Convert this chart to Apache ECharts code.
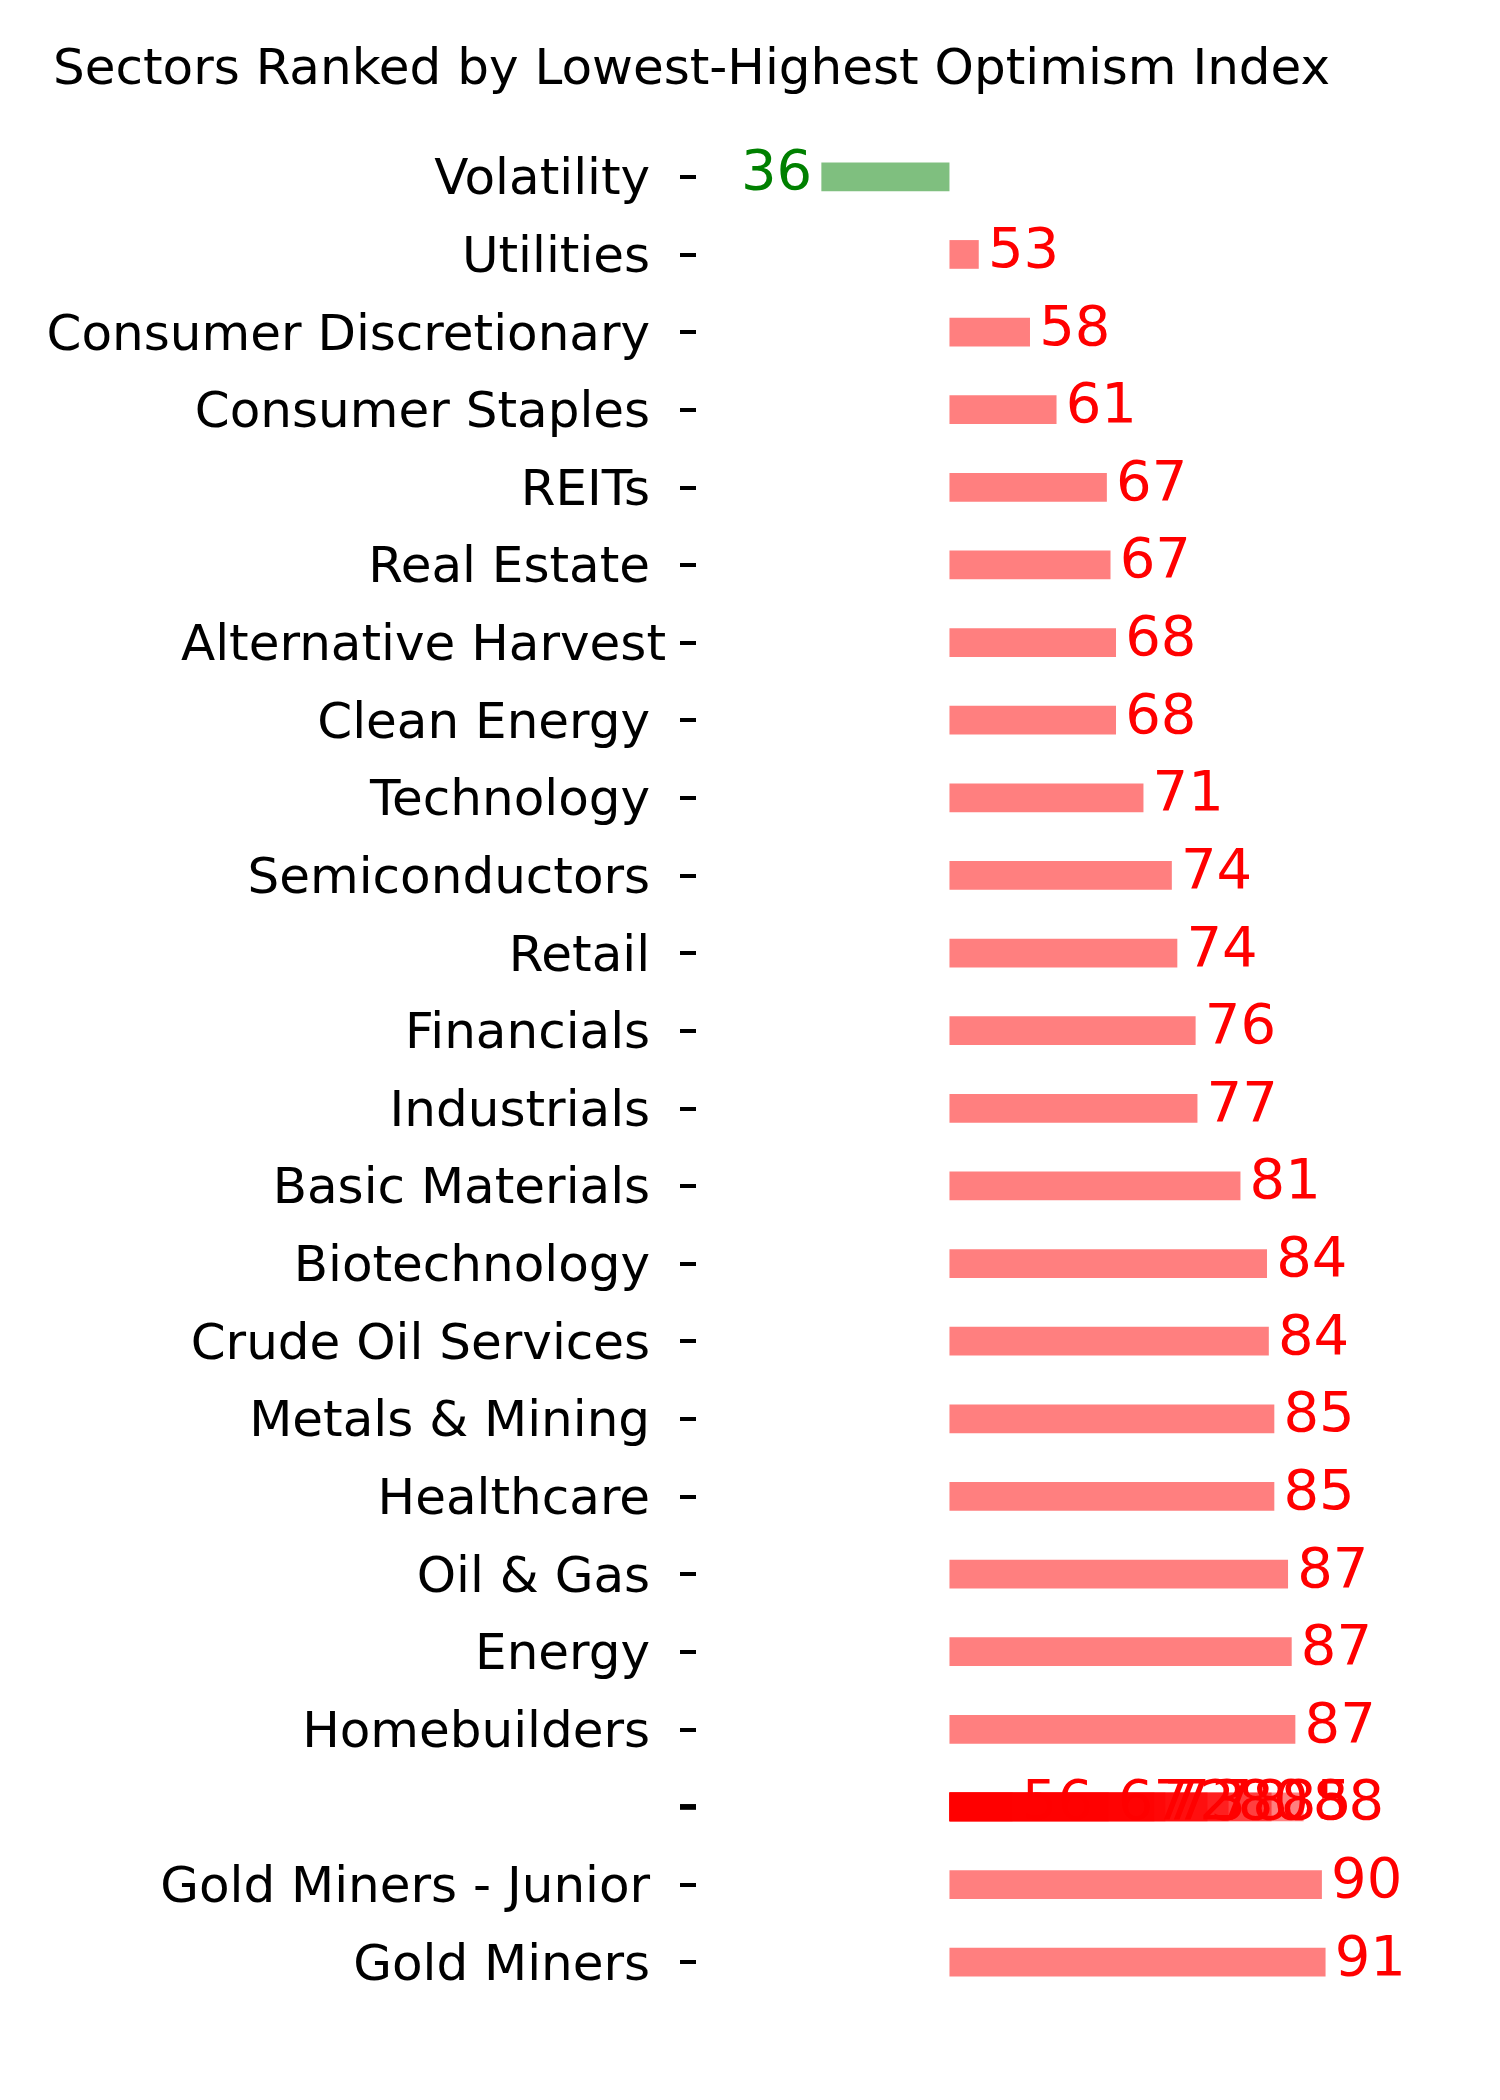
<!DOCTYPE html>
<html>
<head>
<meta charset="utf-8">
<style>
  html, body { margin: 0; padding: 0; background: #fff; }
  #chart_main { width: 1500px; height: 2100px; }
</style>
<script src="https://cdn.jsdelivr.net/npm/echarts@6/dist/echarts.min.js"></script>
</head>
<body>
<div id="chart_main"></div>
<script>
// sector names as they appear on the axis (source strings keep a trailing space)
var sectors = [
  "Volatility ", "Utilities ", "Consumer Discretionary ", "Consumer Staples ",
  "REITs ", "Real Estate ", "Alternative Harvest", "Clean Energy ",
  "Technology ", "Semiconductors ", "Retail ", "Financials ", "Industrials ",
  "Basic Materials ", "Biotechnology ", "Crude Oil Services ", "Metals & Mining ",
  "Healthcare ", "Oil & Gas ", "Energy ", "Homebuilders ", "",
  "Gold Miners - Junior ", "Gold Miners "
];
// optimism index per sector (null = the unnamed row)
var scores = [
  36.0, 53.2, 58.8, 61.7,
  67.2, 67.6, 68.2, 68.2,
  71.2, 74.3, 74.9, 76.9, 77.1,
  81.8, 84.7, 84.9, 85.5,
  85.5, 87.0, 87.4, 87.8, null,
  90.7, 91.1
];
// unnamed entries that all land on the same blank row
var blankRow = 21;
var blankScores = [56.9, 67.4, 72.4, 73.6, 78.2, 80.5, 85.2, 88.7];

var BASELINE = 50;
var XMIN = 22.3, XMAX = 100;
var FONT = '"DejaVu Sans", sans-serif';

var mainData = [];
scores.forEach(function (v, i) {
  if (v !== null) mainData.push([v, i]);
});
var blankData = blankScores.map(function (v) { return [v, blankRow]; });

function renderBar(params, api) {
  var v = api.value(0), row = api.value(1);
  var base = api.coord([BASELINE, row]);
  var end = api.coord([v, row]);
  var h = api.size([0, 1])[1] * 0.37;
  var up = v >= BASELINE;
  var color = up ? "#ff0000" : "#008000";
  var lab = api.coord([up ? v + 1 : v - 1, row]);
  return {
    type: "group",
    children: [
      {
        type: "rect",
        shape: { x: Math.min(base[0], end[0]), y: base[1] - h / 2, width: Math.abs(end[0] - base[0]), height: h },
        style: { fill: color, opacity: 0.5 }
      },
      {
        type: "text",
        x: lab[0],
        y: base[1] - 2,
        style: {
          text: String(Math.floor(v)),
          fill: color,
          font: "56px " + FONT,
          align: up ? "left" : "right",
          verticalAlign: "middle"
        }
      }
    ]
  };
}

// the blank row also gets its tick drawn once per entry (overlapping ticks)
function renderBlank(params, api) {
  var g = renderBar(params, api);
  var row = api.value(1);
  var ax = api.coord([XMIN, row]);
  g.children.unshift({
    type: "line",
    shape: { x1: ax[0] - 16, y1: ax[1], x2: ax[0], y2: ax[1] },
    style: { stroke: "#000", lineWidth: 4.5 }
  });
  return g;
}

var option = {
  animation: false,
  backgroundColor: "#fff",
  title: {
    text: "Sectors Ranked by Lowest-Highest Optimism Index",
    left: 48,
    top: 41,
    textStyle: { fontFamily: FONT, fontSize: 50, fontWeight: "normal", color: "#000" }
  },
  grid: { left: 696, right: 93, top: 138, bottom: 99 },
  xAxis: {
    type: "value",
    min: XMIN,
    max: XMAX,
    show: false
  },
  yAxis: {
    type: "category",
    inverse: true,
    data: sectors,
    axisLine: { show: false },
    axisTick: { show: true, alignWithLabel: true, length: 16, lineStyle: { color: "#000", width: 4 } },
    axisLabel: {
      margin: 30,
      interval: 0,
      formatter: function (v) { return "{n|" + v + "}"; },
      rich: {
        n: { fontFamily: FONT, fontSize: 50, color: "#000", padding: [9, 0, 0, 0] }
      }
    },
    splitLine: { show: false }
  },
  series: [
    {
      type: "custom",
      renderItem: renderBar,
      encode: { x: 0, y: 1 },
      clip: false,
      data: mainData
    },
    {
      type: "custom",
      renderItem: renderBlank,
      encode: { x: 0, y: 1 },
      clip: false,
      data: blankData
    }
  ]
};

var myChart = echarts.init(document.getElementById("chart_main"));
myChart.setOption(option);
window.addEventListener("resize", function () {
  myChart.resize();
});
</script>
</body>
</html>
